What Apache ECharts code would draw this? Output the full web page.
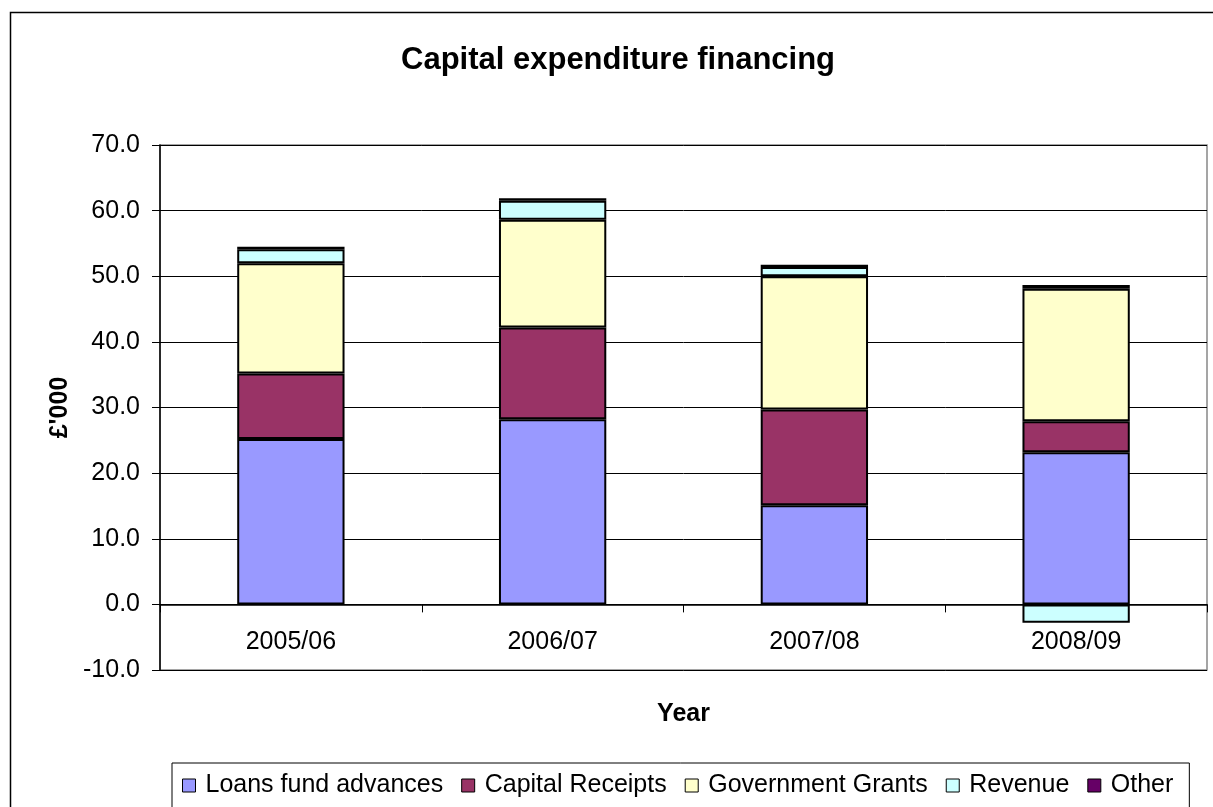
<!DOCTYPE html>
<html>
<head>
<meta charset="utf-8">
<script src="https://cdn.jsdelivr.net/npm/echarts@6/dist/echarts.min.js"></script>
<style>
html,body{margin:0;padding:0;background:#fff;}
#chart{width:1213px;height:807px;}
</style>
</head>
<body>
<div id="chart"></div>
<script>
var categories = ['2005/06', '2006/07', '2007/08', '2008/09'];
var loansFundAdvances = [25.2, 28.2, 15.1, 23.2];
var capitalReceipts = [10.0, 14.0, 14.6, 4.7];
var governmentGrants = [16.8, 16.4, 20.3, 20.2];
var revenue = [2.1, 2.9, 1.4, -2.8];
var other = [0.4, 0.4, 0.35, 0.55];

var FONT = "'Liberation Sans', Arial, sans-serif";
var chart = echarts.init(document.getElementById('chart'));

function bar(name, data, color) {
  return {
    name: name, type: 'bar', stack: 'total', data: data,
    barCategoryGap: '59%',
    itemStyle: { color: color, borderColor: '#000', borderWidth: 2 }
  };
}

chart.setOption({
  animation: false,
  backgroundColor: '#fff',
  textStyle: { fontFamily: FONT },
  title: {
    text: 'Capital expenditure financing',
    left: 396, top: 40,
    textStyle: { fontFamily: FONT, fontSize: 31, fontWeight: 'bold', color: '#000' }
  },
  graphic: [{
    type: 'rect', silent: true,
    shape: { x: 10.5, y: 12.5, width: 1400, height: 1000 },
    style: { fill: null, stroke: '#000', lineWidth: 1.5 }
  }],
  grid: {
    left: 160, right: 6, top: 145, bottom: 137,
    show: true, borderColor: '#888', borderWidth: 1.5, backgroundColor: 'transparent'
  },
  legend: {
    left: 172, top: 763,
    padding: [10, 16, 40, 10],
    borderColor: '#000', borderWidth: 1,
    itemWidth: 13, itemHeight: 13, itemGap: 18,
    icon: 'rect',
    itemStyle: { borderColor: '#000', borderWidth: 1 },
    textStyle: { fontFamily: FONT, fontSize: 25, color: '#000', padding: [0, 0, 0, 5] }
  },
  xAxis: {
    type: 'category', data: categories,
    name: 'Year', nameLocation: 'middle', nameGap: 32,
    nameTextStyle: { fontFamily: FONT, fontSize: 25, fontWeight: 'bold', color: '#000' },
    axisLine: { onZero: true, lineStyle: { color: '#000', width: 1.5 } },
    axisTick: { show: true, length: 8, lineStyle: { color: '#000' } },
    axisLabel: { fontFamily: FONT, fontSize: 25, color: '#000', margin: -40 },
    splitLine: { show: false }
  },
  yAxis: {
    type: 'value', min: -10, max: 70, interval: 10,
    name: "£'000", nameLocation: 'middle', nameGap: 86,
    nameTextStyle: { fontFamily: FONT, fontSize: 25, fontWeight: 'bold', color: '#000' },
    axisLine: { show: true, lineStyle: { color: '#000', width: 1.5 } },
    axisTick: { show: true, length: 8, lineStyle: { color: '#000' } },
    axisLabel: { fontFamily: FONT, fontSize: 25, color: '#000', margin: 20,
      formatter: function (v) { return v.toFixed(1); } },
    splitLine: { show: true, lineStyle: { color: '#000', width: 1 } }
  },
  series: [
    bar('Loans fund advances', loansFundAdvances, '#9999FF'),
    bar('Capital Receipts', capitalReceipts, '#993366'),
    bar('Government Grants', governmentGrants, '#FFFFCC'),
    bar('Revenue', revenue, '#CCFFFF'),
    bar('Other', other, '#660066')
  ]
});
</script>
</body>
</html>
